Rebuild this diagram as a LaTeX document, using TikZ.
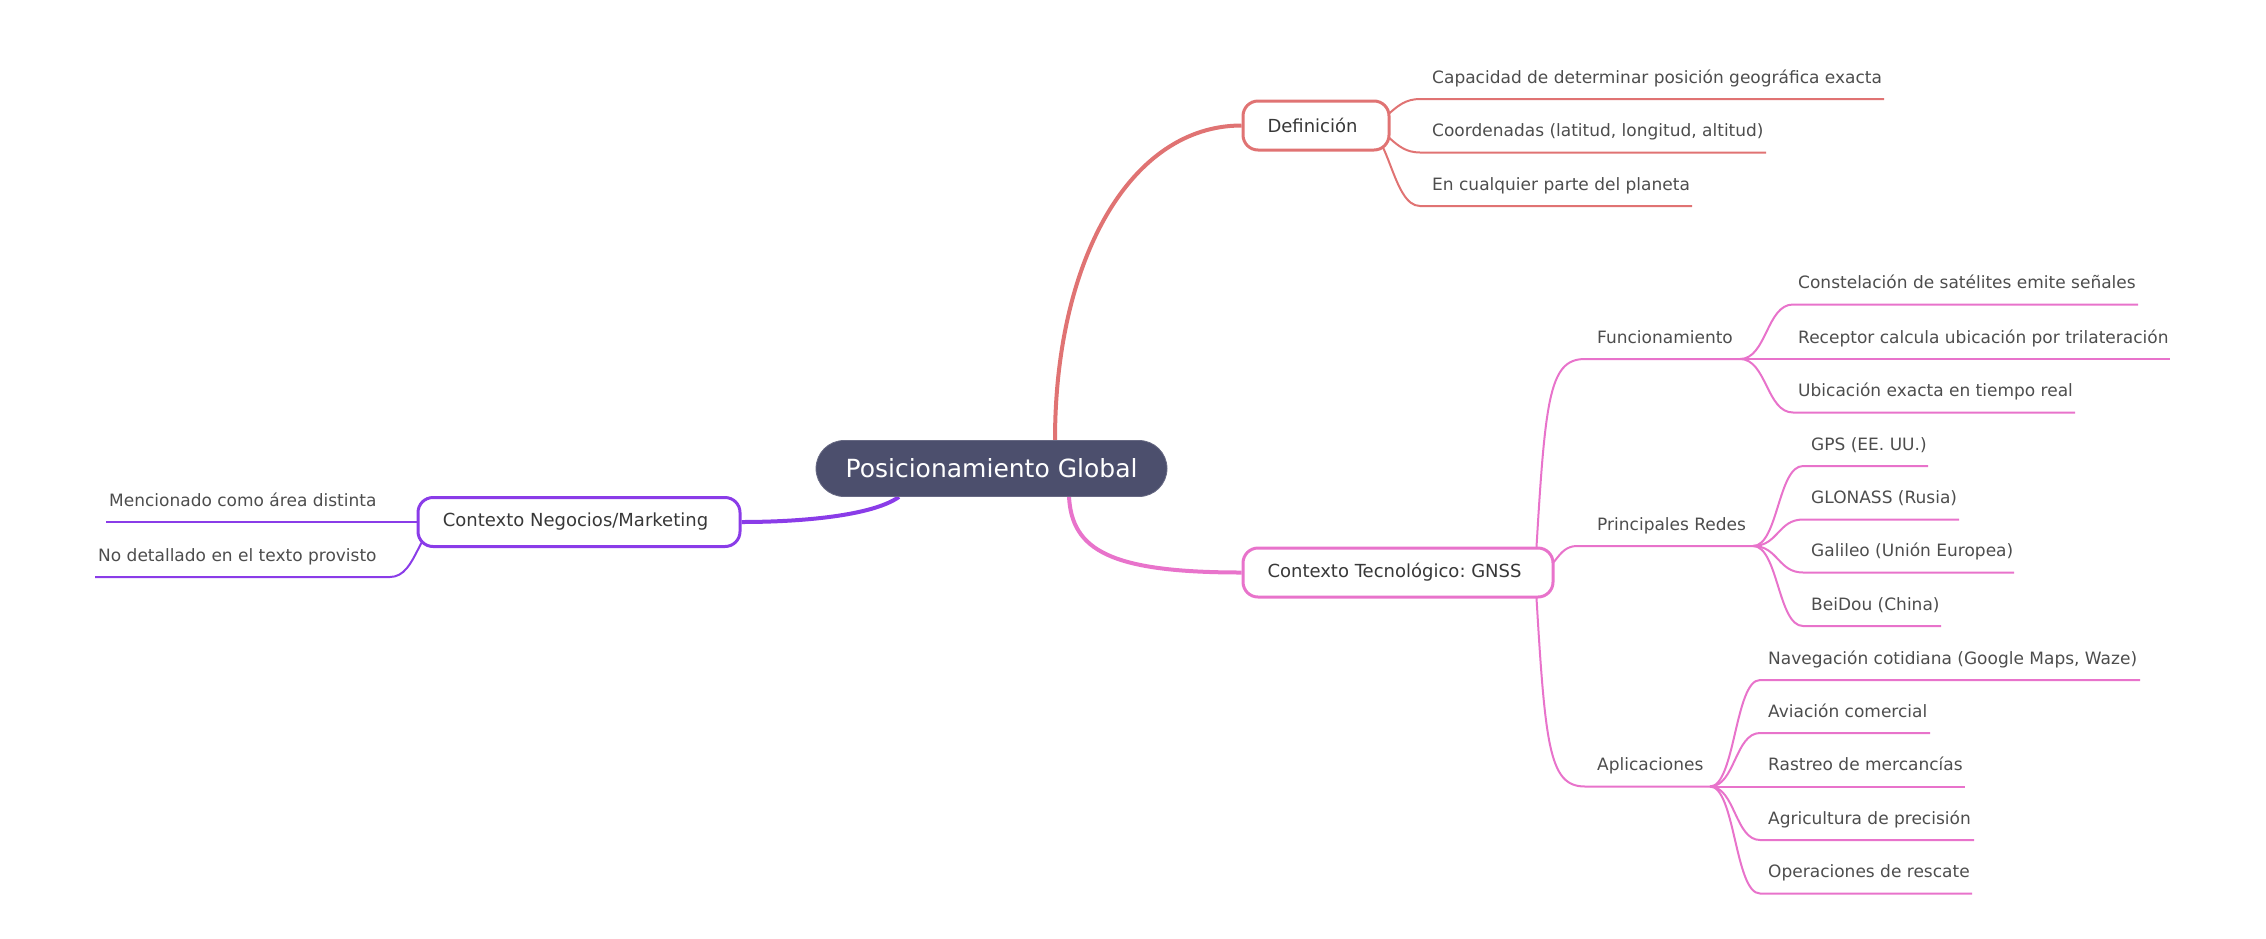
\documentclass[tikz,border=0pt]{standalone}
\usepackage{fontspec}
\setmainfont{DejaVu Sans}
\usetikzlibrary{backgrounds}
\frenchspacing
\definecolor{cdef}{HTML}{E07373}
\definecolor{cgnss}{HTML}{E873CB}
\definecolor{cneg}{HTML}{8A3CE8}
\definecolor{ccen}{HTML}{4C4F6D}
\definecolor{ctxt}{HTML}{4D4D4D}
\definecolor{cbox}{HTML}{383838}
\begin{document}
\begin{tikzpicture}[x=1pt,y=-1pt,
  every node/.style={font=\fontsize{17}{20}\selectfont},
  leaf/.style={anchor=base west, inner sep=0pt, text=ctxt},
  boxnode/.style={draw=#1, line width=3pt, fill=white, rounded corners=15pt, minimum height=49pt, inner xsep=0pt, inner ysep=0pt, text=cbox, font=\fontsize{18}{21}\selectfont},
  centralnode/.style={fill=ccen, draw=ccen!85!white, line width=0.8pt, rounded corners=28pt, minimum width=351pt, minimum height=56pt, inner sep=0pt, text=white, font=\fontsize{25}{30}\selectfont},
  mainlink/.style={draw=#1, line width=4pt},
  sublink/.style={draw=#1, line width=2pt},
]
\path[use as bounding box] (0,0) rectangle (2266,938);

% main nodes
\node[centralnode] (c) at (991.5,468.5) {Posicionamiento Global};
\node[boxnode=cdef, minimum width=146pt] (def) at (1316,125.5) {\kern-7pt Definición};
\node[boxnode=cgnss, minimum width=310pt] (gnss) at (1398,572.5) {\kern-7pt Contexto Tecnológico: GNSS};
\node[boxnode=cneg, minimum width=322pt] (neg) at (579,522) {\kern-7pt Contexto Negocios/Marketing};

% Definicion leaves
\node[leaf] (d1) at (1432,83) {Capacidad de determinar posición geográfica exacta};
\node[leaf] (d2) at (1432,136.5) {Coordenadas (latitud, longitud, altitud)};
\node[leaf] (d3) at (1432,190) {En cualquier parte del planeta};
\coordinate (d1s) at (1420,99);    \coordinate (d1e) at (1884,99);
\coordinate (d2s) at (1420,152.5); \coordinate (d2e) at (1766,152.5);
\coordinate (d3s) at (1420,206);   \coordinate (d3e) at (1692,206);
\coordinate (dsrc) at ([xshift=45pt]def.center);

% GNSS level 2
\node[leaf] (fun) at (1597,343) {Funcionamiento};
\node[leaf] (red) at (1597,530) {Principales Redes};
\node[leaf] (apl) at (1597,770.5) {Aplicaciones};
\coordinate (gsrc) at ([xshift=137pt]gnss.center);
\coordinate (fs) at (1585,359);   \coordinate (fe) at (1740,359);
\coordinate (rs) at (1577,546);   \coordinate (re) at (1753,546);
\coordinate (as) at (1585,786.5); \coordinate (ae) at (1710,786.5);

% Funcionamiento leaves
\node[leaf] (f1) at (1798,288.5) {Constelación de satélites emite señales};
\node[leaf] (f2) at (1798,343) {Receptor calcula ubicación por trilateración};
\node[leaf] (f3) at (1798,396.5) {Ubicación exacta en tiempo real};
\coordinate (f1s) at (1793,304.5); \coordinate (f1e) at (2138,304.5);
\coordinate (f2s) at (1793,359);   \coordinate (f2e) at (2170,359);
\coordinate (f3s) at (1793,412.5); \coordinate (f3e) at (2075,412.5);

% Redes leaves
\node[leaf] (r1) at (1811,450) {GPS (EE. UU.)};
\node[leaf] (r2) at (1811,503.5) {GLONASS (Rusia)};
\node[leaf] (r3) at (1811,556.5) {Galileo (Unión Europea)};
\node[leaf] (r4) at (1811,610) {BeiDou (China)};
\coordinate (r1s) at (1803,466);   \coordinate (r1e) at (1928,466);
\coordinate (r2s) at (1803,519.5); \coordinate (r2e) at (1959,519.5);
\coordinate (r3s) at (1803,572.5); \coordinate (r3e) at (2014,572.5);
\coordinate (r4s) at (1803,626);   \coordinate (r4e) at (1941,626);

% Aplicaciones leaves
\node[leaf] (a1) at (1768,664) {Navegación cotidiana (Google Maps, Waze)};
\node[leaf] (a2) at (1768,717) {Aviación comercial};
\node[leaf] (a3) at (1768,770.5) {Rastreo de mercancías};
\node[leaf] (a4) at (1768,824) {Agricultura de precisión};
\node[leaf] (a5) at (1768,877.5) {Operaciones de rescate};
\coordinate (a1s) at (1760,680);   \coordinate (a1e) at (2140,680);
\coordinate (a2s) at (1760,733);   \coordinate (a2e) at (1930,733);
\coordinate (a3s) at (1760,786.5); \coordinate (a3e) at (1965,786.5);
\coordinate (a4s) at (1760,840);   \coordinate (a4e) at (1974,840);
\coordinate (a5s) at (1760,893.5); \coordinate (a5e) at (1972,893.5);

% Negocios leaves
\node[leaf] (n1) at (109,506) {Mencionado como área distinta};
\node[leaf] (n2) at (98,561) {No detallado en el texto provisto};
\coordinate (nsrc) at ([xshift=-133pt]neg.center);
\coordinate (n1l) at (106,522);
\coordinate (n2r) at (390,577); \coordinate (n2l) at (95,577);

\begin{scope}[on background layer]
% main links
\draw[mainlink=cdef] ([xshift=63.5pt]c.north) .. controls (1055,260) and (1130,125.5) .. (def.west);
\draw[mainlink=cgnss] ([xshift=77.5pt]c.south) .. controls (1072,550) and (1110,572.5) .. (gnss.west);
\draw[mainlink=cneg] ([xshift=-92.5pt]c.south) .. controls (872,516) and (800,522) .. (neg.east);

% Definicion
\draw[sublink=cdef] (dsrc) .. controls +(28,0) and +(-28,0) .. (d1s) -- (d1e);
\draw[sublink=cdef] (dsrc) .. controls +(28,0) and +(-28,0) .. (d2s) -- (d2e);
\draw[sublink=cdef] (dsrc) .. controls +(28,0) and +(-28,0) .. (d3s) -- (d3e);

% GNSS level 2
\draw[sublink=cgnss] (gsrc) .. controls (1545,400) and (1548,359) .. (fs) -- (fe);
\draw[sublink=cgnss] (gsrc) .. controls +(21,0) and +(-21,0) .. (rs) -- (re);
\draw[sublink=cgnss] (gsrc) .. controls (1545,745) and (1548,786.5) .. (as) -- (ae);

% Funcionamiento
\draw[sublink=cgnss] (fe) .. controls +(26.5,0) and +(-26.5,0) .. (f1s) -- (f1e);
\draw[sublink=cgnss] (fe) .. controls +(26.5,0) and +(-26.5,0) .. (f2s) -- (f2e);
\draw[sublink=cgnss] (fe) .. controls +(26.5,0) and +(-26.5,0) .. (f3s) -- (f3e);

% Redes
\draw[sublink=cgnss] (re) .. controls +(25,0) and +(-25,0) .. (r1s) -- (r1e);
\draw[sublink=cgnss] (re) .. controls +(25,0) and +(-25,0) .. (r2s) -- (r2e);
\draw[sublink=cgnss] (re) .. controls +(25,0) and +(-25,0) .. (r3s) -- (r3e);
\draw[sublink=cgnss] (re) .. controls +(25,0) and +(-25,0) .. (r4s) -- (r4e);

% Aplicaciones
\draw[sublink=cgnss] (ae) .. controls +(25,0) and +(-25,0) .. (a1s) -- (a1e);
\draw[sublink=cgnss] (ae) .. controls +(25,0) and +(-25,0) .. (a2s) -- (a2e);
\draw[sublink=cgnss] (ae) .. controls +(25,0) and +(-25,0) .. (a3s) -- (a3e);
\draw[sublink=cgnss] (ae) .. controls +(25,0) and +(-25,0) .. (a4s) -- (a4e);
\draw[sublink=cgnss] (ae) .. controls +(25,0) and +(-25,0) .. (a5s) -- (a5e);

% Negocios
\draw[sublink=cneg] (nsrc) -- (n1l);
\draw[sublink=cneg] (nsrc) .. controls +(-28,0) and +(28,0) .. (n2r) -- (n2l);
\end{scope}
\end{tikzpicture}
\end{document}
